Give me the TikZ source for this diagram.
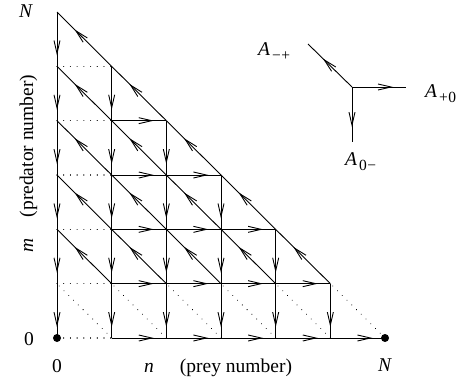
\documentclass[tikz,border=0pt]{standalone}
\usepackage{fontspec}
\setmainfont{Liberation Serif}
\usetikzlibrary{arrows.meta,decorations.markings}
\tikzset{
  flow/.style={postaction={decorate},decoration={markings,
    mark=at position #1 with {\arrow{Straight Barb[length=13pt,width=6pt]}}}},
  flow/.default=0.78,
  edgeline/.style={line width=0.9pt},
  dotline/.style={line width=1.1pt, dash pattern=on 0.01pt off 6.7pt, line cap=round},
  lbl/.style={inner sep=0pt, font=\fontsize{19.5}{23}\selectfont},
}
\newcommand{\Asub}[2]{\textit{A}\hspace{2pt}\raisebox{-5.5pt}{\fontsize{15.5}{15.5}\selectfont #1\hspace{0.5pt}#2}}
\begin{document}
\begin{tikzpicture}[x=1pt,y=-1pt]
\useasboundingbox (0,0) rectangle (472,381);
% lattice points
\foreach \n in {0,...,6}{
  \pgfmathtruncatemacro\mx{6-\n}
  \foreach \m in {0,...,\mx}{
    \coordinate (p\n-\m) at ({57+54.67*\n},{338-54.33*\m});
  }
}
% dotted edges
\foreach \m in {0,...,5}{
  \draw[dotline] (p0-\m) -- (p1-\m);
}
\foreach \a in {1,...,6}{
  \pgfmathtruncatemacro\aa{\a-1}
  \draw[dotline] (p\a-0) -- (p\aa-1);
}
% vertical (down) edges
\foreach \n in {0,...,5}{
  \pgfmathtruncatemacro\mx{6-\n}
  \foreach \m in {1,...,\mx}{
    \pgfmathtruncatemacro\mm{\m-1}
    \draw[edgeline,flow=0.8] (p\n-\m) -- (p\n-\mm);
  }
}
% horizontal (right) edges
\foreach \n in {1,...,5}{
  \pgfmathtruncatemacro\mx{5-\n}
  \pgfmathtruncatemacro\nn{\n+1}
  \foreach \m in {0,...,\mx}{
    \draw[edgeline,flow=0.77] (p\n-\m) -- (p\nn-\m);
  }
}
% diagonal (up-left) edges
\foreach \b in {1,...,5}{
  \pgfmathtruncatemacro\ax{6-\b}
  \pgfmathtruncatemacro\bb{\b+1}
  \foreach \a in {1,...,\ax}{
    \pgfmathtruncatemacro\aa{\a-1}
    \draw[edgeline,flow=0.68] (p\a-\b) -- (p\aa-\bb);
  }
}
% absorbing points
\fill (p0-0) circle[radius=4pt];
\fill (p6-0) circle[radius=4pt];
% axis labels
\node[lbl,anchor=base] (ntop) at (26,17) {\textit{N}};
\node[lbl,anchor=base] (zl) at (29,345) {0};
\node[lbl,anchor=base] (zb) at (57,372) {0};
\node[lbl,anchor=base] (nl) at (149,372) {\textit{n}};
\node[lbl,anchor=base] (prey) at (236,372) {(prey number)};
\node[lbl,anchor=base] (nr) at (385,371) {\textit{N}};
\node[lbl,anchor=base,rotate=90] (ml) at (33,245) {\textit{m}};
\node[lbl,anchor=base,rotate=90] (pred) at (33,146) {(predator number)};
% inset
\coordinate (c) at (352,87);
\coordinate (ul) at (308,44);
\coordinate (r) at (406,87);
\coordinate (d) at (352,142);
\draw[edgeline,flow=0.66] (c) -- (ul);
\draw[edgeline,flow=0.76] (c) -- (r);
\draw[edgeline,flow=0.73] (c) -- (d);
\node[lbl,anchor=base west] (amp) at (258,55) {\Asub{−}{+}};
\node[lbl,anchor=base west] (apz) at (425,97) {\Asub{+}{0}};
\node[lbl,anchor=base west] (azm) at (345,165) {\Asub{0}{−}};
\end{tikzpicture}
\end{document}
